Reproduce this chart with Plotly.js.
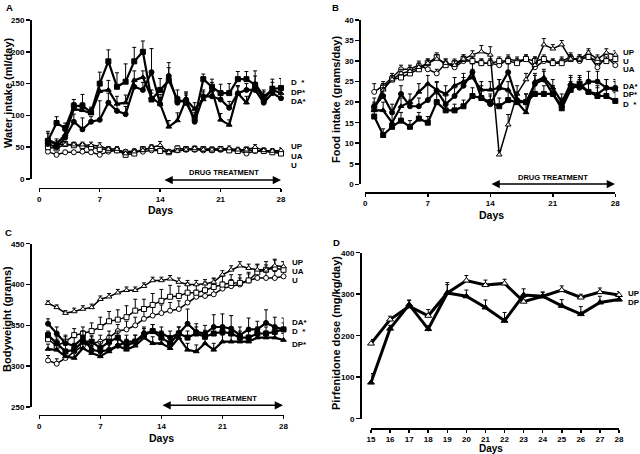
<!DOCTYPE html>
<html><head><meta charset="utf-8">
<script src="https://cdn.plot.ly/plotly-3.0.1.min.js"></script>
<style>html,body{margin:0;padding:0;background:#fff}#chart{width:640px;height:454px}</style>
</head><body><div id="chart"></div>
<script>
// ---------- DATA ----------
const days = [1,2,3,4,5,6,7,8,9,10,11,12,13,14,15,16,17,18,19,20,21,22,23,24,25,26,27,28];
const doseDays = [15,16,17,18,19,20,21,22,23,24,25,26,27,28];

// A: water intake (ml/day)
const waterD    = [60,88,80,115,115,105,150,185,145,153,185,200,125,140,155,125,120,95,157,145,135,135,157,157,148,125,142,143];
const waterDErr = [15,10,8,10,18,8,18,18,22,28,22,17,10,18,20,15,12,10,8,12,14,15,12,12,22,12,15,15];
const waterDP    = [62,55,70,110,108,103,138,140,118,120,155,160,128,118,82,92,125,110,125,140,93,85,135,120,150,130,140,135];
const waterDPErr = [10,8,8,10,12,8,15,15,12,12,15,10,12,10,10,12,10,10,12,12,10,8,12,10,12,10,12,12];
const waterDA    = [55,50,65,90,78,90,93,120,107,102,145,140,168,118,162,120,125,90,130,130,125,112,135,140,140,120,135,127];
const waterDAErr = [8,8,10,12,18,8,30,15,12,12,12,12,37,15,21,10,12,10,10,10,10,10,10,10,12,8,10,12];
const waterUP    = [58,55,54,54,54,53,52,47,47,40,43,45,50,53,42,44,46,48,46,46,47,48,46,46,50,45,44,45];
const waterUPErr = [5,5,4,4,4,5,5,4,4,4,4,4,4,6,4,4,4,4,4,4,4,4,4,4,4,4,4,4];
const waterUA    = [50,48,55,53,52,50,47,46,45,38,40,47,48,44,42,48,47,47,47,46,47,45,44,46,45,44,42,40];
const waterUAErr = [4,4,4,4,4,4,4,4,4,4,4,4,4,4,4,4,4,4,4,4,4,4,4,4,4,4,4,4];
const waterU     = [43,38,42,42,43,42,38,43,45,43,44,43,45,45,43,45,46,46,45,45,46,46,45,40,44,44,43,42];
const waterUErr  = [3,3,3,3,3,3,3,3,3,3,3,3,3,3,3,3,3,3,3,3,3,3,3,3,3,3,3,3];

// B: food intake (grams/day)
const foodUP    = [18,23,25.5,27,27.5,28.5,29.5,30.5,29.5,29,30.5,31.5,32.3,31.5,7.2,14.5,22,25.5,29,34,33,34,30.5,30.5,32,30.5,32,31.5];
const foodUPErr = [1.5,1.5,1,1,1,1,1,1,1,1,1,1,1.5,2,1,2.5,2,1.5,2,1.5,1,1,1,1,1,1,1,1];
const foodU     = [22.5,24,26,28,28,29,28,27,29.5,28.5,30,30,29.5,29.5,29,30.5,30,30.5,28.5,30,29.5,30,31,30,31.5,28.5,31,29];
const foodUErr  = [2,1,1,1,1,1,1,1,1,1,1,1,1,1,1,1,1,1,1,1,1,1,1,1,1,1,1,1];
const foodUA    = [18.5,23.5,25.5,26,27,28,29.5,31,29,29.5,30.5,30,29.5,29.5,30,30,29.5,30.5,30,30.5,29.5,29.5,30.5,30.5,31,30,30,30.5];
const foodUAErr = [1,1,1,1,1,1,1,1,1,1,1,1,1,1,1,1,1,1,1,1,1,1,1,1,1,1,1,1];
const foodDA    = [19,21.5,17.5,22,19,19,20.5,22.8,19.5,21.5,24,27.3,21,19.5,23.5,27.3,20.5,20,24.5,25.5,22,19,24,23.5,25,25,23.5,23.5];
const foodDAErr = [2,2,2,2,1.5,2,4,2,2,2,2,2,3,2,2,2,2,2,2,2,2,2,2,2,2.5,2.5,2,2];
const foodD     = [16.5,12,14,15.5,14,16,15,20,18,18,19,21.5,21,20,19,20.5,20,20,22,22,22,18.5,23,24.5,22.5,21.5,21.5,20.3];
const foodDErr  = [2,1.5,1.5,2,1.5,1.5,1.5,2,1.5,1.5,1.5,2,2,2,2,2,2,2,2,2,2,1.5,2,2,2,2,2,2];
const foodDP    = [18,18,15,19,20,22.5,24.5,23,22,24,25,26,23,23,23.5,23,20,17.5,25,26,23.5,20,24.5,24,22.5,22,23.5,23];
const foodDPErr = [2,2,2,2,2,2,2,2,2,2,2,2,2,2,2,2,2,2,2,2,2,2,2,2,2,2,2,2];

// C: bodyweight (grams)
const bodyUP    = [377,372,365,367,370,372,382,385,390,393,393,398,405,405,407,403,400,400,401,403,412,418,423,420,418,418,423,422];
const bodyUPErr = [3,3,3,4,4,4,4,4,4,4,4,4,4,4,4,5,5,5,5,5,5,5,5,5,6,6,8,6];
const bodyUA    = [333,325,330,338,340,343,348,355,357,360,368,370,375,380,385,386,390,390,393,397,400,402,402,405,415,418,420,418];
const bodyUAErr = [8,8,8,8,8,10,12,12,12,14,14,12,14,14,14,12,12,10,10,10,10,10,10,10,10,10,10,10];
const bodyU     = [307,303,310,318,325,328,330,335,343,345,350,358,362,365,368,370,378,385,386,388,395,398,400,405,408,408,408,410];
const bodyUErr  = [6,6,6,6,8,8,8,8,8,10,10,10,10,10,10,10,10,8,8,8,8,8,8,8,8,8,8,8];
const bodyDA    = [352,340,328,325,335,320,318,320,325,330,330,340,343,340,335,340,352,342,340,348,348,346,338,345,345,353,348,345];
const bodyDAErr = [6,8,8,10,8,8,8,8,8,8,8,8,8,8,8,8,18,10,10,15,16,16,10,14,10,16,12,14];
const bodyD     = [338,328,318,320,330,330,322,330,335,325,330,338,343,335,328,340,335,340,336,340,342,340,335,335,340,340,342,345];
const bodyDErr  = [5,8,8,8,8,8,8,8,8,8,8,8,8,8,8,8,8,8,8,8,8,8,8,8,8,8,8,8];
const bodyDP    = [321,320,312,310,322,316,312,318,325,320,325,335,328,328,322,335,320,318,328,320,330,330,330,330,335,335,335,332];
const bodyDPErr = [6,8,8,8,8,8,8,8,8,8,8,8,8,8,8,8,8,8,8,8,8,8,8,8,8,8,8,8];

// D: pirfenidone dose (mg/kg/day)
const doseUP    = [181,239,271,248,303,333,322,326,282,295,310,292,305,298];
const doseUPErr = [10,8,15,15,25,12,12,10,10,10,10,8,10,8];
const doseDP    = [87,217,275,216,303,295,268,236,298,295,272,252,280,287];
const doseDPErr = [22,8,10,8,20,15,18,20,15,10,15,18,15,8];

// ---------- BUILD ----------
const W = 640, H = 454;
const FONT = 'Liberation Sans, Arial, Helvetica, sans-serif';

function errBar(err) {
  return {type:'data', symmetric:false, array:err, arrayminus:err.map(() => 0),
          color:'#000', thickness:1, width:2, visible:true};
}
function series(x, y, err, ax, symbol, filled, lw, msize) {
  return {
    type:'scatter', mode:'lines+markers', x:x, y:y, xaxis:'x'+ax, yaxis:'y'+ax,
    cliponaxis:false,
    line:{color:'#000', width:lw},
    marker:{symbol:symbol, size:msize || 5, color: filled ? '#000' : '#fff',
            line:{color:'#000', width:1}},
    error_y: errBar(err), hoverinfo:'skip'
  };
}
const traces = [
  // A
  series(days, waterU,  waterUErr,  '', 'circle', false, 1.5),
  series(days, waterUA, waterUAErr, '', 'square', false, 1.5),
  series(days, waterUP, waterUPErr, '', 'triangle-up', false, 1.5),
  series(days, waterDA, waterDAErr, '', 'circle', true, 2.2),
  series(days, waterDP, waterDPErr, '', 'triangle-up', true, 2.2),
  series(days, waterD,  waterDErr,  '', 'square', true, 2.2),
  // B
  series(days, foodU,  foodUErr,  '2', 'circle', false, 1.5),
  series(days, foodUA, foodUAErr, '2', 'square', false, 1.5),
  series(days, foodUP, foodUPErr, '2', 'triangle-up', false, 1.5),
  series(days, foodDA, foodDAErr, '2', 'circle', true, 2.2),
  series(days, foodDP, foodDPErr, '2', 'triangle-up', true, 2.2),
  series(days, foodD,  foodDErr,  '2', 'square', true, 2.2),
  // C
  series(days, bodyU,  bodyUErr,  '3', 'circle', false, 1.5),
  series(days, bodyUA, bodyUAErr, '3', 'square', false, 1.5),
  series(days, bodyUP, bodyUPErr, '3', 'triangle-up', false, 1.5),
  series(days, bodyDA, bodyDAErr, '3', 'circle', true, 2.2),
  series(days, bodyDP, bodyDPErr, '3', 'triangle-up', true, 2.2),
  series(days, bodyD,  bodyDErr,  '3', 'square', true, 2.2),
  // D
  series(doseDays, doseUP, doseUPErr, '4', 'triangle-up', false, 3, 6),
  series(doseDays, doseDP, doseDPErr, '4', 'triangle-up', true, 3, 6)
];

const tickFont = {family:FONT, size:8, color:'#000', weight:'bold'};
function xAx(px0, px1, py, range, dtick) {
  return {domain:[px0/W, px1/W], anchor:'free', position:1 - py/H, range:range,
    tick0:range[0], dtick:dtick, showline:true, linewidth:1.5, linecolor:'#000',
    ticks:'outside', ticklen:3, tickwidth:1.5, tickcolor:'#000',
    showgrid:false, zeroline:false, tickfont:tickFont, fixedrange:true, automargin:false};
}
function yAx(pyTop, pyBot, px, range, dtick) {
  return {domain:[1 - pyBot/H, 1 - pyTop/H], anchor:'free', position:px/W, range:range,
    tick0:range[0], dtick:dtick, showline:true, linewidth:1.5, linecolor:'#000',
    ticks:'outside', ticklen:4, tickwidth:1.5, tickcolor:'#000',
    showgrid:false, zeroline:false, tickfont:tickFont, fixedrange:true, automargin:false};
}

function txt(px, py, text, size, opts) {
  return Object.assign({xref:'paper', yref:'paper', x:px/W, y:1 - py/H, text:text,
    showarrow:false, xanchor:'center', yanchor:'middle', borderpad:0,
    font:{family:FONT, size:size, color:'#000', weight:'bold'}}, opts || {});
}
function arrow(px0, px1, py) {
  return {xref:'paper', yref:'paper', x:px1/W, y:1 - py/H, ax:-(px1 - px0), ay:0,
    text:'', showarrow:true, arrowside:'end+start',
    arrowhead:2, arrowsize:1.1, arrowwidth:1.5, arrowcolor:'#000', standoff:0, startstandoff:0};
}
const L = {xanchor:'left'};
const LS = 8;
const DS = 10.5;
const annotations = [
  // panel letters
  txt(5, 7, 'A', 9.5, L), txt(331, 7, 'B', 9.5, L), txt(4, 232, 'C', 9.5, L), txt(332, 242, 'D', 9.5, L),
  // x titles
  txt(160, 209.5, 'Days', DS), txt(491, 214.5, 'Days', DS), txt(161, 437.5, 'Days', DS), txt(491, 448.5, 'Days', 10),
  // y titles
  txt(8, 93, 'Water intake (ml/day)', 11, {textangle:-90}),
  txt(336, 100, 'Food intake (grams/day)', 11, {textangle:-90}),
  txt(7, 319, 'Bodyweight (grams)', 11, {textangle:-90}),
  txt(336, 333, 'Pirfenidone dose (mg/kg/day)', 11, {textangle:-90}),
  // series labels A
  txt(290, 83, 'D\u00a0\u00a0*', LS, L), txt(290, 92, 'DP*', LS, L), txt(290, 101, 'DA*', LS, L),
  txt(290, 147, 'UP', LS, L), txt(290, 156, 'UA', LS, L), txt(290, 165, 'U', LS, L),
  // B
  txt(622, 52, 'UP', LS, L), txt(622, 61, 'U', LS, L), txt(622, 70, 'UA', LS, L),
  txt(622, 86, 'DA*', LS, L), txt(622, 95, 'DP*', LS, L), txt(622, 104, 'D\u00a0\u00a0*', LS, L),
  // C
  txt(291, 262, 'UP', LS, L), txt(291, 271, 'UA', LS, L), txt(291, 280, 'U', LS, L),
  txt(291, 322, 'DA*', LS, L), txt(291, 331.5, 'D\u00a0\u00a0*', LS, L), txt(291, 344, 'DP*', LS, L),
  // D
  txt(627, 293, 'UP', LS, L), txt(627, 302.5, 'DP', LS, L),
  // drug treatment
  txt(224, 173, 'DRUG TREATMENT', 7.5), arrow(163, 281, 180),
  txt(553, 177, 'DRUG TREATMENT', 7.5), arrow(490, 615, 184),
  txt(222, 398, 'DRUG TREATMENT', 7.5), arrow(161, 283, 405.3)
];

const layout = {
  width:W, height:H, margin:{l:0, r:0, t:0, b:0},
  paper_bgcolor:'#fff', plot_bgcolor:'rgba(0,0,0,0)', showlegend:false,
  font:{family:FONT, color:'#000'},
  xaxis:  xAx(39.3, 281, 187.7, [0, 28], 7),
  yaxis:  yAx(20, 179, 30, [0, 250], 50),
  xaxis2: xAx(365.3, 615.3, 192.3, [0, 28], 7),
  yaxis2: yAx(20, 184.3, 359.3, [0, 40], 5),
  xaxis3: xAx(39.3, 283.5, 414.7, [0, 28], 7),
  yaxis3: yAx(243.7, 407, 30, [250, 450], 50),
  xaxis4: xAx(371, 619, 428, [15, 28], 1),
  yaxis4: yAx(252.7, 418.7, 360, [0, 400], 100),
  annotations: annotations
};

Plotly.newPlot('chart', traces, layout, {staticPlot:true, displayModeBar:false});
</script>
</body></html>
